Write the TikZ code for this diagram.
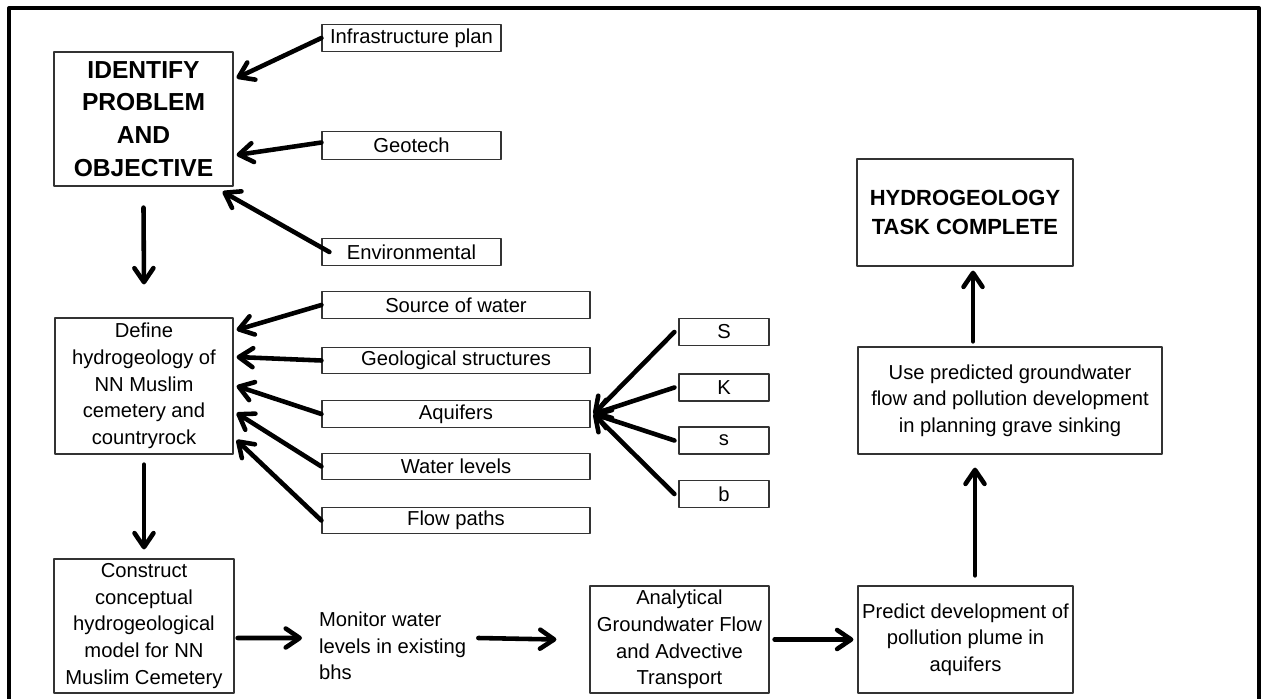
\documentclass[tikz,border=0pt]{standalone}
\usepackage{fontspec}
\setmainfont{Liberation Sans}
\usetikzlibrary{arrows.meta,calc}

\begin{document}
\begin{tikzpicture}[x=0.02cm, y=-0.02cm, line cap=round, line join=round,
  caja/.style={draw=black!80, line width=0.7pt, inner sep=1pt, align=center,
    font=\fontsize{11.5}{15.2}\selectfont},
  titulo/.style={caja, font=\bfseries\fontsize{14}{18.7}\selectfont},
  chico/.style={caja, minimum width=3.58cm, minimum height=0.55cm},
  medio/.style={caja, minimum width=5.36cm, minimum height=0.53cm},
  letra/.style={caja, minimum width=1.8cm, minimum height=0.54cm},
  grande/.style={caja, minimum height=2.14cm},
  flecha/.style={line width=2.6pt, -{Straight Barb[length=2.8mm,width=3.8mm,round]}}]
  \useasboundingbox (0,0) rectangle (1261,699);
  % el marco
  \draw[line width=2.3pt, line cap=butt] (9,720) -- (9,8) -- (1259,8) -- (1259,720);
  % el problema
  \node[titulo, minimum width=3.58cm, minimum height=2.68cm] (ident) at (143.5,119) {IDENTIFY\\PROBLEM\\AND\\OBJECTIVE};
  \node[chico] (infra) at (411.5,38) {Infrastructure plan};
  \node[chico] (geotech) at (411.5,145.5) {Geotech};
  \node[chico] (env) at (411.5,252) {Environmental};
  \draw[flecha] (infra.west) -- ([xshift=0.06cm,yshift=0.82cm]ident.east);
  \draw[flecha] ([yshift=0.06cm]geotech.west) -- ([xshift=0.06cm,yshift=-0.72cm]ident.east);
  \draw[flecha] ([xshift=0.16cm]env.west) -- ([xshift=-0.22cm,yshift=-0.1cm]ident.south east);
  % la hidrogeologia
  \node[caja, minimum width=3.56cm, minimum height=2.72cm] (define) at (144,386) {Define\\hydrogeology of\\NN Muslim\\cemetery and\\countryrock};
  \node[medio] (source) at (456,305) {Source of water};
  \node[medio] (geol) at (456,360.5) {Geological structures};
  \node[medio] (aquif) at (456,414) {Aquifers};
  \node[medio] (wlev) at (456,466.5) {Water levels};
  \node[medio] (flow) at (456,520.5) {Flow paths};
  \draw[flecha] ([yshift=-0.42cm]ident.south) -- ([yshift=0.66cm]define.north);
  \foreach \n/\d in {source/1.12cm, geol/0.58cm, aquif/0cm, wlev/-0.54cm, flow/-1.08cm}
    \draw[flecha] (\n.west) -- ([xshift=0.06cm,yshift=\d]define.east);
  % los parametros
  \node[letra] (parS) at (724,332) {S};
  \node[letra] (parK) at (724,387.5) {K};
  \node[letra] (pars) at (724,440.5) {s};
  \node[letra] (parb) at (724,494) {b};
  \foreach \p in {parS,parK,pars,parb}
    \draw[flecha] ([xshift=-0.08cm]\p.west) -- ([xshift=0.06cm]aquif.east);
  % el modelo
  \node[caja, minimum width=3.6cm, minimum height=2.68cm] (constr) at (144,626) {Construct\\conceptual\\hydrogeological\\model for NN\\Muslim Cemetery};
  \draw[flecha] ([yshift=-0.2cm]define.south) -- ([yshift=0.18cm]constr.north);
  \node[align=left, inner sep=1pt, anchor=west, font=\fontsize{11.5}{15.2}\selectfont] (monitor) at (317,646) {Monitor water\\levels in existing\\bhs};
  \node[grande, minimum width=3.58cm] (analyt) at (679.5,639.5) {Analytical\\Groundwater Flow\\and Advective\\Transport};
  \node[grande, minimum width=4.3cm] (predict) at (965.5,639.5) {Predict development of\\pollution plume in\\aquifers};
  \node[grande, minimum width=6.08cm] (use) at (1010,400.5) {Use predicted groundwater\\flow and pollution development\\in planning grave sinking};
  \node[caja, font=\bfseries\fontsize{12.5}{16.6}\selectfont, minimum width=4.32cm, minimum height=2.14cm] (hydro) at (965,212.5) {HYDROGEOLOGY\\TASK COMPLETE};
  \draw[flecha] ([xshift=0.06cm,yshift=-0.24cm]constr.east) -- ([xshift=-0.3cm,yshift=0.16cm]monitor.west);
  \draw[flecha] ([xshift=0.2cm,yshift=0.16cm]monitor.east) -- ([xshift=-0.66cm]analyt.west);
  \draw[flecha] ([xshift=0.1cm]analyt.east) -- ([xshift=-0.08cm]predict.west);
  \draw[flecha] ([xshift=0.19cm,yshift=0.2cm]predict.north) -- ($(use.south -| predict.north)+(0.19cm,-0.26cm)$);
  \draw[flecha] ($(use.north -| hydro.south)+(0.16cm,0.1cm)$) -- ([xshift=0.16cm,yshift=-0.08cm]hydro.south);
\end{tikzpicture}
\end{document}
